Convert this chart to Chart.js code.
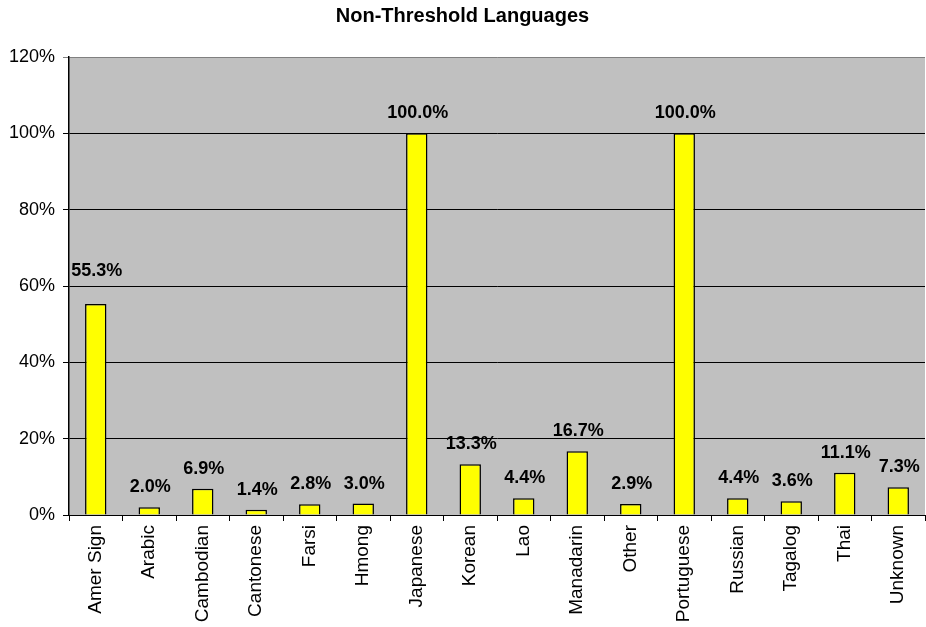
<!DOCTYPE html>
<html>
<head>
<meta charset="utf-8">
<script src="https://cdn.jsdelivr.net/npm/chart.js@4/dist/chart.umd.min.js"></script>
<style>
  html, body { margin: 0; padding: 0; background: #fff; }
  #wrap { width: 926px; height: 627px; }
</style>
</head>
<body>
<div id="wrap"><canvas id="chart"></canvas></div>
<script>
// 语言分类与比例（百分比）
const languages = ['Amer Sign', 'Arabic', 'Cambodian', 'Cantonese', 'Farsi', 'Hmong', 'Japanese', 'Korean',
    'Lao', 'Manadarin', 'Other', 'Portuguese', 'Russian', 'Tagalog', 'Thai', 'Unknown'];
const percentValues = [55.3, 2.0, 6.9, 1.4, 2.8, 3.0, 100.0, 13.3, 4.4, 16.7, 2.9, 100.0, 4.4, 3.6, 11.1, 7.3];
const yTickValues = [0, 20, 40, 60, 80, 100, 120];

const FONT = 'Arial, "Liberation Sans", sans-serif';

// 绘图区灰色背景
const plotBackground = {
    id: 'plotBackground',
    beforeDraw(chart) {
        const { ctx, chartArea: a } = chart;
        ctx.save();
        ctx.fillStyle = '#c0c0c0';
        ctx.fillRect(a.left, a.top, a.right - a.left, a.bottom - a.top);
        ctx.restore();
    }
};

// 柱顶数值标签（第一个标签抬高一些，避开网格线）
const valueLabels = {
    id: 'valueLabels',
    afterDatasetsDraw(chart) {
        const { ctx } = chart;
        const meta = chart.getDatasetMeta(0);
        ctx.save();
        ctx.font = 'bold 18px ' + FONT;
        ctx.fillStyle = '#000';
        ctx.textAlign = 'center';
        ctx.textBaseline = 'bottom';
        meta.data.forEach((bar, i) => {
            const lift = i === 0 ? 24 : 11;
            ctx.fillText(percentValues[i].toFixed(1) + '%', bar.x + 1, bar.y - lift);
        });
        ctx.restore();
    }
};

new Chart(document.getElementById('chart'), {
    type: 'bar',
    data: {
        labels: languages,
        datasets: [{
            data: percentValues,
            backgroundColor: '#ffff00',
            borderColor: '#000',
            borderWidth: 1.5,
            categoryPercentage: 1,
            barPercentage: 0.4
        }]
    },
    options: {
        responsive: true,
        maintainAspectRatio: false,
        animation: false,
        layout: { padding: { left: 0, right: 1, top: 0, bottom: 0 } },
        plugins: {
            legend: { display: false },
            tooltip: { enabled: false },
            title: {
                display: true,
                text: 'Non-Threshold Languages',
                color: '#000',
                font: { family: FONT, size: 20, weight: 'bold' },
                padding: { top: 4, bottom: 29 }
            }
        },
        scales: {
            x: {
                grid: {
                    offset: true,
                    drawOnChartArea: false,
                    drawTicks: true,
                    tickLength: 6,
                    color: '#000'
                },
                border: { color: '#000', width: 1 },
                ticks: {
                    color: '#000',
                    font: { family: FONT, size: 19 },
                    minRotation: 90,
                    maxRotation: 90,
                    padding: 4,
                    autoSkip: false
                },
                afterFit(scale) { scale.height = 112; }
            },
            y: {
                min: 0,
                max: 120,
                afterBuildTicks(scale) {
                    scale.ticks = yTickValues.map(v => ({ value: v }));
                },
                grid: {
                    color: ctx => (ctx.tick && ctx.tick.value === 120) ? '#808080' : '#000',
                    lineWidth: 1,
                    tickLength: 6,
                    drawTicks: true
                },
                border: { color: '#000', width: 1.5 },
                ticks: {
                    color: '#000',
                    font: { family: FONT, size: 18 },
                    padding: 8,
                    callback: v => v + '%'
                },
                afterFit(scale) { scale.width = 69; }
            }
        }
    },
    plugins: [plotBackground, valueLabels]
});
</script>
</body>
</html>
